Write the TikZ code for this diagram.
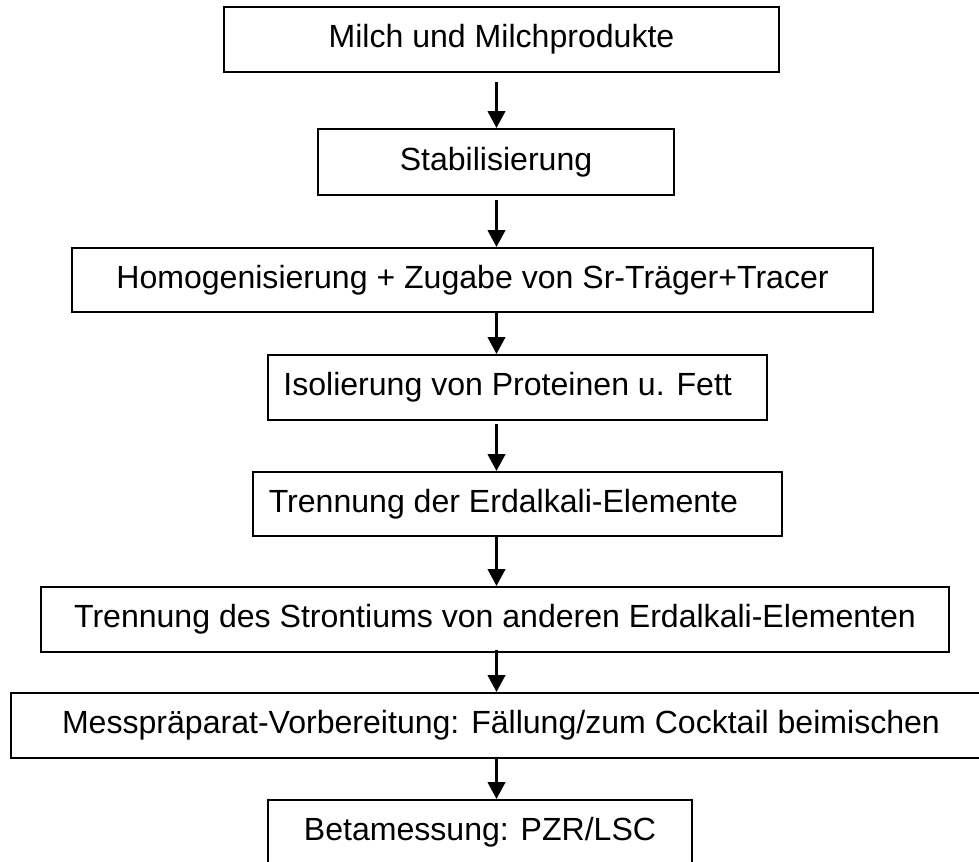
\documentclass[tikz,border=0pt]{standalone}
\usepackage{fontspec}
\setmainfont{Liberation Sans}
\usetikzlibrary{arrows.meta}
\tikzset{
    step box/.style ={draw=black, line width=1.5pt, fill=white, align=center,
                      font=\fontsize{22.8}{27}\selectfont, inner sep=0pt,
                      minimum height=1.625cm},
    flow/.style     ={-{Triangle[length=12pt, width=12.5pt]},
                      line width=1.6pt, black},
}

\begin{document}
\begin{tikzpicture}[x=0.025cm, y=-0.025cm]
\useasboundingbox (0,0) rectangle (979,861);

% ===================== Probe =====================
\node[step box, minimum width=13.875cm] (milch) at (501.5,39.5) {Milch und Milchprodukte};
\node[step box, minimum width=8.9cm, minimum height=1.65cm] (stab) at (496,162) {Stabilisierung};
\node[step box, minimum width=20.025cm, minimum height=1.6cm] (homog) at (472.5,280)
     {Homogenisierung + Zugabe von Sr-Träger+Tracer};

% ===================== Trennung =====================
\node[step box, minimum width=12.475cm] (isol) at (517.5,387.5) {Isolierung von Proteinen u. Fett\hspace{14pt}};
\node[step box, minimum width=13.225cm, minimum height=1.6cm] (erdalk) at (517.5,504) {Trennung der Erdalkali-Elemente\hspace{20pt}};
\node[step box, minimum width=22.7cm] (stront) at (495,619.5)
     {Trennung des Strontiums von anderen Erdalkali-Elementen};

% ===================== Messung =====================
\node[step box, minimum width=24.5cm] (praep) at (501,725.5)
     {Messpräparat-Vorbereitung: Fällung/zum Cocktail beimischen};
\node[step box, minimum width=10.6cm] (beta) at (480,832.5) {Betamessung: PZR/LSC};

% ===================== Pfeile =====================
\coordinate (spine) at (496.5,0);
\draw[flow, shorten <=0.225cm] (milch.south -| spine) -- (stab.north -| spine);
\draw[flow, shorten <=0.1cm] (stab.south -| spine) -- (homog.north -| spine);
\draw[flow] (homog.south -| spine) -- (isol.north -| spine);
\draw[flow, shorten <=0.075cm] (isol.south -| spine) -- (erdalk.north -| spine);
\draw[flow] (erdalk.south -| spine) -- (stront.north -| spine);
\draw[flow, shorten <=-0.075cm] (stront.south -| spine) -- (praep.north -| spine);
\draw[flow] (praep.south -| spine) -- (beta.north -| spine);

\end{tikzpicture}
\end{document}
